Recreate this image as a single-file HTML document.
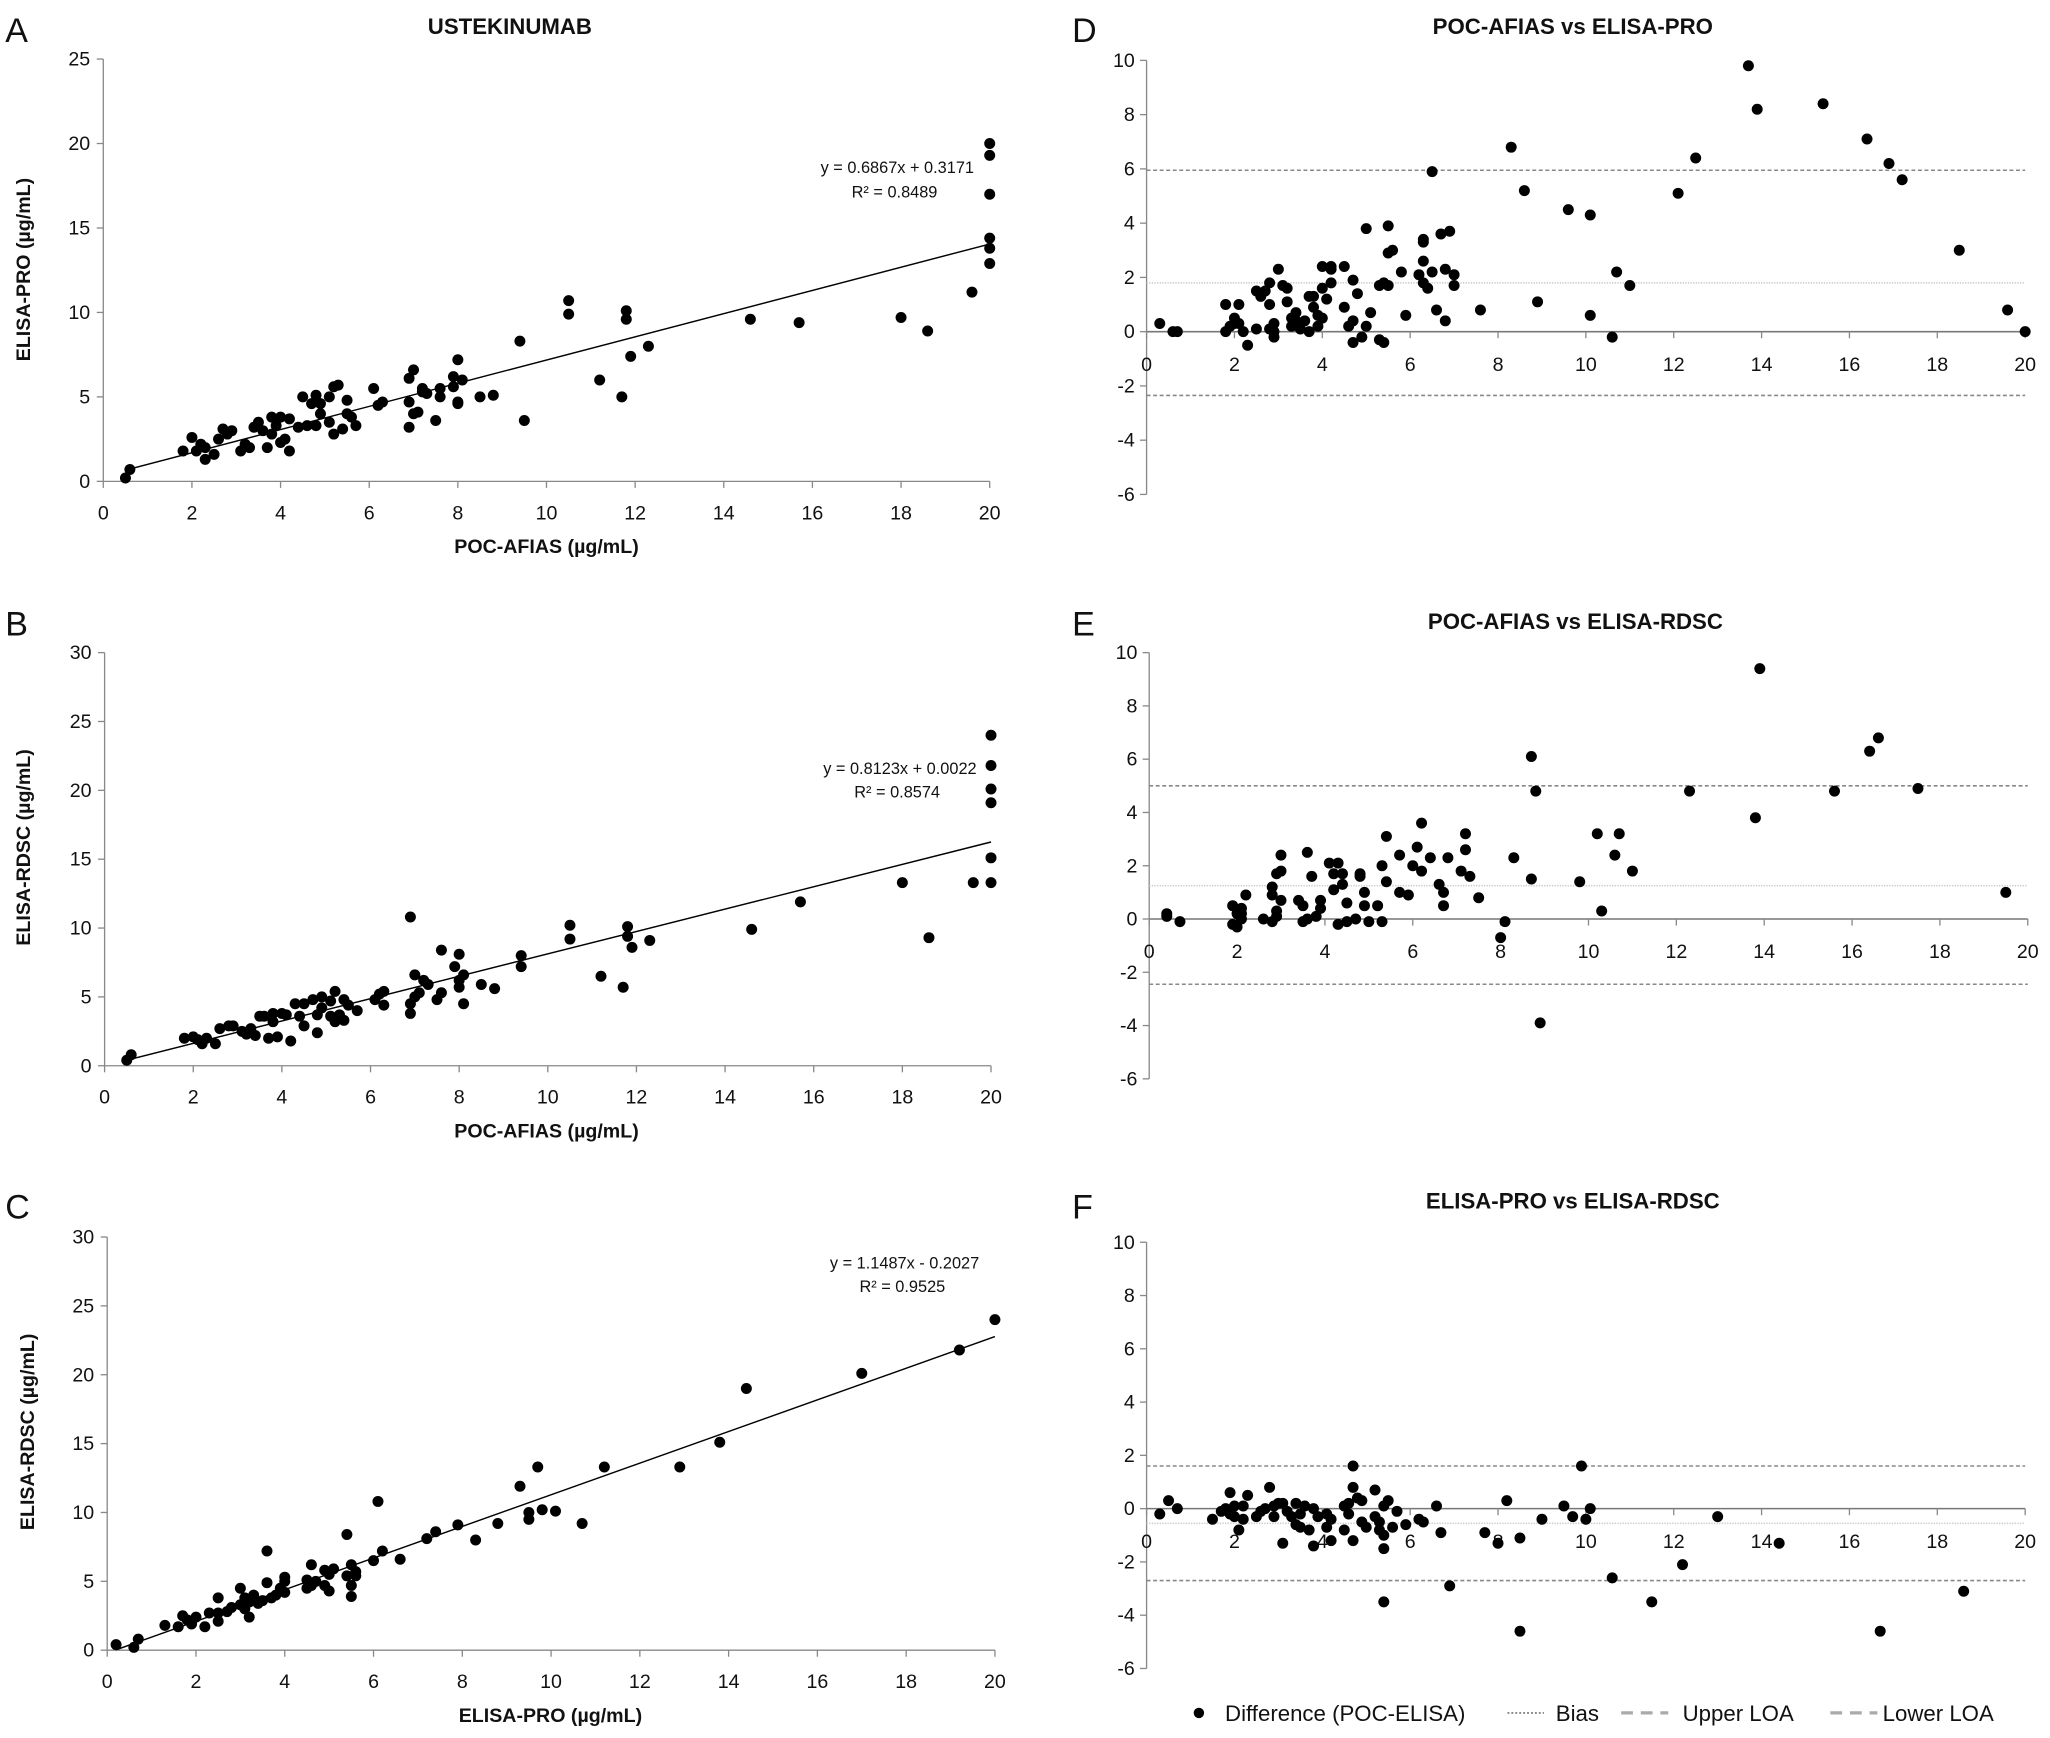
<!DOCTYPE html>
<html><head><meta charset="utf-8"><style>
html,body{margin:0;padding:0;background:#fff}
svg{display:block}
text{font-family:"Liberation Sans",sans-serif;fill:#111}
.tk{font-size:15px}
.ttl{font-size:17px;font-weight:bold}
.ax{font-size:15px;font-weight:bold}
.eq{font-size:12.5px}
.pl{font-size:26px}
.lg{font-size:17px}
</style></head><body>
<svg id="fig" width="2050" height="1738" viewBox="0 0 1568 1329" xmlns="http://www.w3.org/2000/svg">
<text class="pl" x="4" y="32">A</text>
<text class="ttl" x="390" y="26" text-anchor="middle">USTEKINUMAB</text>
<text class="ax" x="418" y="423" text-anchor="middle">POC-AFIAS (µg/mL)</text>
<text class="ax" transform="translate(23,206) rotate(-90)" text-anchor="middle">ELISA-PRO (µg/mL)</text>
<text class="eq" x="745" y="132" text-anchor="end">y = 0.6867x + 0.3171</text>
<text class="eq" x="717" y="151" text-anchor="end">R² = 0.8489</text>

<text class="pl" x="4" y="486">B</text>
<text class="ax" x="418" y="870" text-anchor="middle">POC-AFIAS (µg/mL)</text>
<text class="ax" transform="translate(23,648) rotate(-90)" text-anchor="middle">ELISA-RDSC (µg/mL)</text>
<text class="eq" x="747" y="592" text-anchor="end">y = 0.8123x + 0.0022</text>
<text class="eq" x="719" y="610" text-anchor="end">R² = 0.8574</text>

<text class="pl" x="4" y="932">C</text>
<text class="ax" x="421" y="1317" text-anchor="middle">ELISA-PRO (µg/mL)</text>
<text class="ax" transform="translate(26,1095) rotate(-90)" text-anchor="middle">ELISA-RDSC (µg/mL)</text>
<text class="eq" x="749" y="970" text-anchor="end">y = 1.1487x - 0.2027</text>
<text class="eq" x="723" y="988" text-anchor="end">R² = 0.9525</text>

<text class="pl" x="820" y="32">D</text>
<text class="ttl" x="1203" y="26" text-anchor="middle">POC-AFIAS  vs ELISA-PRO</text>
<text class="pl" x="820" y="486">E</text>
<text class="ttl" x="1205" y="481" text-anchor="middle">POC-AFIAS vs ELISA-RDSC</text>
<text class="pl" x="820" y="932">F</text>
<text class="ttl" x="1203" y="924" text-anchor="middle">ELISA-PRO vs ELISA-RDSC</text>

<g>
<circle cx="917" cy="1310" r="4" fill="#000"/>
<text class="lg" x="937" y="1316">Difference (POC-ELISA)</text>
<line x1="1153" y1="1310" x2="1181" y2="1310" stroke="#777" stroke-width="1.2" stroke-dasharray="1.5,1.5"/>
<text class="lg" x="1190" y="1316">Bias</text>
<line x1="1240" y1="1310" x2="1276" y2="1310" stroke="#aaa" stroke-width="2.5" stroke-dasharray="9,6"/>
<text class="lg" x="1287" y="1316">Upper LOA</text>
<line x1="1400" y1="1310" x2="1436" y2="1310" stroke="#aaa" stroke-width="2.5" stroke-dasharray="9,6"/>
<text class="lg" x="1440" y="1316">Lower LOA</text>
</g>
</svg>
<script>
const aX=[0.5,0.6,1.8,2.0,2.1,2.2,2.3,2.3,2.5,2.6,2.7,2.8,2.9,3.1,3.2,3.3,3.4,3.5,3.6,3.7,3.8,3.8,3.9,4.0,4.0,4.1,4.2,4.2,4.4,4.5,4.6,4.7,4.8,4.8,4.9,4.9,5.1,5.1,5.2,5.2,5.3,5.4,5.5,5.5,5.6,5.7,6.1,6.2,6.3,6.9,6.9,6.9,7.0,7.0,7.1,7.2,7.2,7.3,7.5,7.6,7.6,7.9,7.9,8.0,8.0,8.0,8.1,8.5,8.8,9.4,9.5,10.5,10.5,11.2,11.7,11.8,11.8,11.9,12.3,14.6,15.7,18.0,18.6,19.6,20,20,20,20,20,20];
const aY=[0.2,0.7,1.8,2.6,1.8,2.2,1.3,2.0,1.6,2.5,3.1,2.8,3.0,1.8,2.2,2.0,3.2,3.5,3.0,2.0,3.8,2.8,3.3,3.8,2.3,2.5,1.8,3.7,3.2,5.0,3.3,4.6,3.3,5.1,4.0,4.6,3.5,5.0,2.8,5.6,5.7,3.1,4.8,4.0,3.8,3.3,5.5,4.5,4.7,4.7,6.1,3.2,6.6,4.0,4.1,5.5,5.3,5.2,3.6,5.0,5.5,6.2,5.6,7.2,4.7,4.6,6.0,5.0,5.1,8.3,3.6,9.9,10.7,6.0,5.0,9.6,10.1,7.4,8.0,9.6,9.4,9.7,8.9,11.2,12.9,13.8,14.4,17.0,19.3,20.0];
const bX=[0.5,0.6,1.8,2.0,2.1,2.2,2.3,2.5,2.6,2.8,2.9,3.1,3.2,3.3,3.4,3.5,3.6,3.7,3.8,3.8,3.9,4.0,4.1,4.2,4.3,4.4,4.5,4.5,4.7,4.8,4.8,4.9,4.9,5.1,5.1,5.2,5.2,5.3,5.4,5.4,5.5,5.7,6.1,6.2,6.3,6.3,6.9,6.9,6.9,7.0,7.0,7.1,7.2,7.3,7.5,7.6,7.6,7.9,8.0,8.0,8.0,8.1,8.1,8.5,8.8,9.4,9.4,10.5,10.5,11.2,11.7,11.8,11.8,11.9,12.3,14.6,15.7,18.0,18.6,19.6,20,20,20,20,20,20];
const bY=[0.4,0.8,2.0,2.1,1.9,1.6,2.0,1.6,2.7,2.9,2.9,2.5,2.3,2.7,2.2,3.6,3.6,2.0,3.8,3.2,2.1,3.8,3.7,1.8,4.5,3.6,4.5,2.9,4.8,3.7,2.4,4.2,5.0,3.6,4.7,3.2,5.4,3.7,4.8,3.3,4.4,4.0,4.8,5.2,5.4,4.4,4.5,10.8,3.8,6.6,5.0,5.3,6.2,5.9,4.8,5.3,8.4,7.2,8.1,5.7,6.2,4.5,6.6,5.9,5.6,8.0,7.2,10.2,9.2,6.5,5.7,9.4,10.1,8.6,9.1,9.9,11.9,13.3,9.3,13.3,13.3,15.1,19.1,20.1,21.8,24.0];
const cX=[0.2,0.6,0.7,1.3,1.6,1.7,1.8,1.9,2.0,2.2,2.3,2.5,2.5,2.5,2.7,2.8,3.0,3.0,3.1,3.1,3.2,3.2,3.3,3.4,3.5,3.6,3.6,3.7,3.8,3.9,4.0,4.0,4.0,4.5,4.5,4.6,4.6,4.7,4.9,4.9,5.0,5.0,5.1,5.4,5.4,5.5,5.5,5.5,5.6,5.6,6.0,6.1,6.2,6.6,7.2,7.4,7.9,8.3,8.8,9.3,9.5,9.5,9.7,9.8,10.1,10.7,11.2,12.9,13.8,14.4,17.0,19.2,20];
const cY=[0.4,0.2,0.8,1.8,1.7,2.5,2.2,1.9,2.4,1.7,2.7,3.8,2.7,2.1,2.8,3.1,3.3,4.5,3.0,3.8,2.4,3.5,4.0,3.4,3.6,7.2,4.9,3.8,4.0,4.5,4.2,5.0,5.3,4.5,5.1,4.7,6.2,5.0,5.8,4.7,5.5,4.3,5.9,5.4,8.4,3.9,4.7,6.2,5.4,5.7,6.5,10.8,7.2,6.6,8.1,8.6,9.1,8.0,9.2,11.9,9.5,10.0,13.3,10.2,10.1,9.2,13.3,13.3,15.1,19.0,20.1,21.8,24.0];
const fitSlope=[0.6867,0.8123,1.1487];
const fitIntercept=[0.3171,0.0022,-0.2027];
const dX=[0.3,0.6,0.7,1.8,1.8,1.9,2.0,2.0,2.1,2.1,2.2,2.3,2.5,2.5,2.6,2.7,2.8,2.8,2.8,2.9,2.9,2.9,3.0,3.1,3.2,3.2,3.3,3.3,3.4,3.4,3.5,3.6,3.7,3.7,3.8,3.8,3.9,3.9,4.0,4.0,4.0,4.1,4.2,4.2,4.2,4.5,4.5,4.6,4.7,4.7,4.7,4.8,4.9,5.0,5.0,5.1,5.3,5.3,5.4,5.4,5.5,5.5,5.5,5.6,5.8,5.9,6.2,6.3,6.3,6.3,6.3,6.4,6.5,6.5,6.6,6.7,6.8,6.8,6.9,7.0,7.0,7.6,8.3,8.6,8.9,9.6,10.1,10.1,10.6,10.7,11.0,12.1,12.5,13.7,13.9,15.4,16.4,16.9,17.2,18.5,19.6,20];
const dY=[0.3,0.0,0.0,1.0,0.0,0.2,0.5,0.3,1.0,0.3,0.0,-0.5,1.5,0.1,1.3,1.5,1.0,1.8,0.1,0.3,-0.2,0.0,2.3,1.7,1.6,1.1,0.5,0.2,0.7,0.4,0.1,0.4,1.3,0.0,1.3,0.9,0.6,0.2,0.5,2.4,1.6,1.2,2.3,2.4,1.8,0.9,2.4,0.2,1.9,0.4,-0.4,1.4,-0.2,3.8,0.2,0.7,-0.3,1.7,-0.4,1.8,2.9,3.9,1.7,3.0,2.2,0.6,2.1,2.6,1.8,3.3,3.4,1.6,5.9,2.2,0.8,3.6,0.4,2.3,3.7,2.1,1.7,0.8,6.8,5.2,1.1,4.5,4.3,0.6,-0.2,2.2,1.7,5.1,6.4,9.8,8.2,8.4,7.1,6.2,5.6,3.0,0.8,0.0];
const eX=[0.4,0.4,0.7,1.9,1.9,2.0,2.0,2.1,2.1,2.1,2.2,2.6,2.8,2.8,2.8,2.9,2.9,2.9,3.0,3.0,3.0,3.4,3.5,3.5,3.6,3.6,3.7,3.8,3.9,3.9,4.1,4.2,4.2,4.3,4.3,4.4,4.4,4.5,4.5,4.7,4.8,4.8,4.9,4.9,5.0,5.2,5.3,5.3,5.4,5.4,5.7,5.7,5.9,6.0,6.1,6.2,6.2,6.4,6.6,6.7,6.7,6.8,7.1,7.2,7.2,7.3,7.5,8.0,8.1,8.3,8.7,8.7,8.8,8.9,9.8,10.2,10.3,10.6,10.7,11.0,12.3,13.8,13.9,15.6,16.4,16.6,17.5,19.5];
const eY=[0.2,0.1,-0.1,0.5,-0.2,-0.3,0.2,0.0,0.4,0.2,0.9,0.0,1.2,0.9,-0.1,1.7,0.3,0.1,0.7,2.4,1.8,0.7,0.5,-0.1,2.5,0.0,1.6,0.1,0.7,0.4,2.1,1.1,1.7,2.1,-0.2,1.7,1.3,-0.1,0.6,0.0,1.6,1.7,1.0,0.5,-0.1,0.5,-0.1,2.0,3.1,1.4,2.4,1.0,0.9,2.0,2.7,1.8,3.6,2.3,1.3,1.0,0.5,2.3,1.8,3.2,2.6,1.6,0.8,-0.7,-0.1,2.3,6.1,1.5,4.8,-3.9,1.4,3.2,0.3,2.4,3.2,1.8,4.8,3.8,9.4,4.8,6.3,6.8,4.9,1.0];
const fX=[0.3,0.5,0.7,1.5,1.7,1.8,1.9,1.9,2.0,2.0,2.1,2.2,2.2,2.3,2.5,2.6,2.7,2.8,2.9,2.9,3.0,3.1,3.1,3.2,3.3,3.4,3.4,3.5,3.5,3.6,3.7,3.8,3.8,3.9,4.1,4.1,4.2,4.2,4.5,4.5,4.6,4.6,4.7,4.7,4.7,4.8,4.9,4.9,5.0,5.2,5.2,5.3,5.3,5.4,5.4,5.4,5.4,5.5,5.6,5.7,5.9,6.2,6.3,6.6,6.7,6.9,7.7,8.0,8.2,8.5,8.5,9.0,9.5,9.7,9.9,10.0,10.1,10.6,11.5,12.2,13.0,14.4,16.7,18.6];
const fY=[-0.2,0.3,0.0,-0.4,-0.1,0.0,-0.2,0.6,0.1,-0.3,-0.8,-0.4,0.1,0.5,-0.3,-0.1,0.0,0.8,0.1,-0.3,0.2,-1.3,0.2,-0.1,-0.3,0.2,-0.6,-0.2,-0.7,0.1,-0.8,-1.4,0.0,-0.3,-0.2,-0.7,-0.4,-1.2,0.1,-0.8,0.2,-0.2,0.8,1.6,-1.2,0.4,0.3,-0.5,-0.7,-0.3,0.7,-0.5,-0.8,0.1,-1.5,-1.0,-3.5,0.3,-0.7,-0.1,-0.6,-0.4,-0.5,0.1,-0.9,-2.9,-0.9,-1.3,0.3,-1.1,-4.6,-0.4,0.1,-0.3,1.6,-0.4,0.0,-2.6,-3.5,-2.1,-0.3,-1.3,-4.6,-3.1];
const biasVals=[1.8,1.25,-0.55];
const upperLOA=[5.95,5.0,1.6];
const lowerLOA=[-2.35,-2.45,-2.7];
const xTicks=[0,2,4,6,8,10,12,14,16,18,20];
const yTicksA=[0,5,10,15,20,25];
const yTicks30=[0,5,10,15,20,25,30];
const yTicksBA=[-6,-4,-2,0,2,4,6,8,10];

const NS='http://www.w3.org/2000/svg';
const svg=document.getElementById('fig');
function mk(tag,attrs,parent){const e=document.createElementNS(NS,tag);for(const k in attrs)e.setAttribute(k,attrs[k]);(parent||svg).appendChild(e);return e;}

function scatter(key,xs,ys,yTicks,yMax,x0,x20,yb,yt,fi,fitFrom){
  const g=mk('g',{});
  
  
  const sx=v=>x0+(x20-x0)*v/20, sy=v=>yb-(yb-yt)*v/yMax;
  const ya=mk('line',{x1:x0,y1:yt,x2:x0,y2:yb,stroke:'#888','stroke-width':1},g);
  
  
  const xa=mk('line',{x1:x0,y1:yb,x2:x20,y2:yb,stroke:'#888','stroke-width':1},g);
  
  
  yTicks.forEach(t=>{
    mk('line',{x1:x0-5,y1:sy(t),x2:x0,y2:sy(t),stroke:'#888'},g);
    const tx=mk('text',{x:x0-10,y:sy(t)+5,'text-anchor':'end',class:'tk'},g);
    tx.textContent=t;
    
    
  });
  xTicks.forEach(t=>{
    mk('line',{x1:sx(t),y1:yb,x2:sx(t),y2:yb+5,stroke:'#888'},g);
    const tx=mk('text',{x:sx(t),y:yb+29,'text-anchor':'middle',class:'tk'},g);
    tx.textContent=t;
    
    
  });
  const ln=mk('line',{x1:sx(fitFrom),y1:sy(fitSlope[fi]*fitFrom+fitIntercept[fi]),x2:sx(20),y2:sy(fitSlope[fi]*20+fitIntercept[fi]),stroke:'#000','stroke-width':1.1},g);
  
  
  xs.forEach((v,i)=>{
    const c=mk('circle',{cx:sx(v),cy:sy(ys[i]),r:4.2,fill:'#000'},g);
    
    
  });
}
function ba(key,xs,ys,i,x0,x20,y10,ym6){
  const g=mk('g',{});
  
  
  const sx=v=>x0+(x20-x0)*v/20, sy=v=>y10+(ym6-y10)*(10-v)/16;
  const ya=mk('line',{x1:x0,y1:y10,x2:x0,y2:ym6,stroke:'#888'},g);
  
  
  yTicksBA.forEach(t=>{
    mk('line',{x1:x0-5,y1:sy(t),x2:x0,y2:sy(t),stroke:'#888'},g);
    const tx=mk('text',{x:x0-9,y:sy(t)+5,'text-anchor':'end',class:'tk'},g);
    tx.textContent=t;
    
    
  });
  const up=mk('line',{x1:x0,y1:sy(upperLOA[i]),x2:x20,y2:sy(upperLOA[i]),stroke:'#888','stroke-width':1.2,'stroke-dasharray':'3,2'},g);
  
  
  const lo=mk('line',{x1:x0,y1:sy(lowerLOA[i]),x2:x20,y2:sy(lowerLOA[i]),stroke:'#888','stroke-width':1.2,'stroke-dasharray':'3,2'},g);
  
  
  const bi=mk('line',{x1:x0,y1:sy(biasVals[i]),x2:x20,y2:sy(biasVals[i]),stroke:'#ccc','stroke-width':1.2,'stroke-dasharray':'1,1'},g);
  
  
  const xa=mk('line',{x1:x0,y1:sy(0),x2:x20,y2:sy(0),stroke:'#777','stroke-width':1.2},g);
  
  
  xTicks.forEach(t=>{
    mk('line',{x1:sx(t),y1:sy(0),x2:sx(t),y2:sy(0)+5,stroke:'#888'},g);
    const tx=mk('text',{x:sx(t),y:sy(0)+30,'text-anchor':'middle',class:'tk'},g);
    tx.textContent=t;
    
    
  });
  xs.forEach((v,j)=>{
    const c=mk('circle',{cx:sx(v),cy:sy(ys[j]),r:4.2,fill:'#000'},g);
    
    
  });
}
scatter('a',aX,aY,yTicksA,25,79,757,368,45,0,0.5);
scatter('b',bX,bY,yTicks30,30,80,758,815,499,1,0.5);
scatter('c',cX,cY,yTicks30,30,82,761,1262,946,2,0.2);
ba('d',dX,dY,0,877,1549,46,378);
ba('e',eX,eY,1,879,1551,499,825);
ba('f',fX,fY,2,877,1549,950,1276);
</script>
</body></html>
